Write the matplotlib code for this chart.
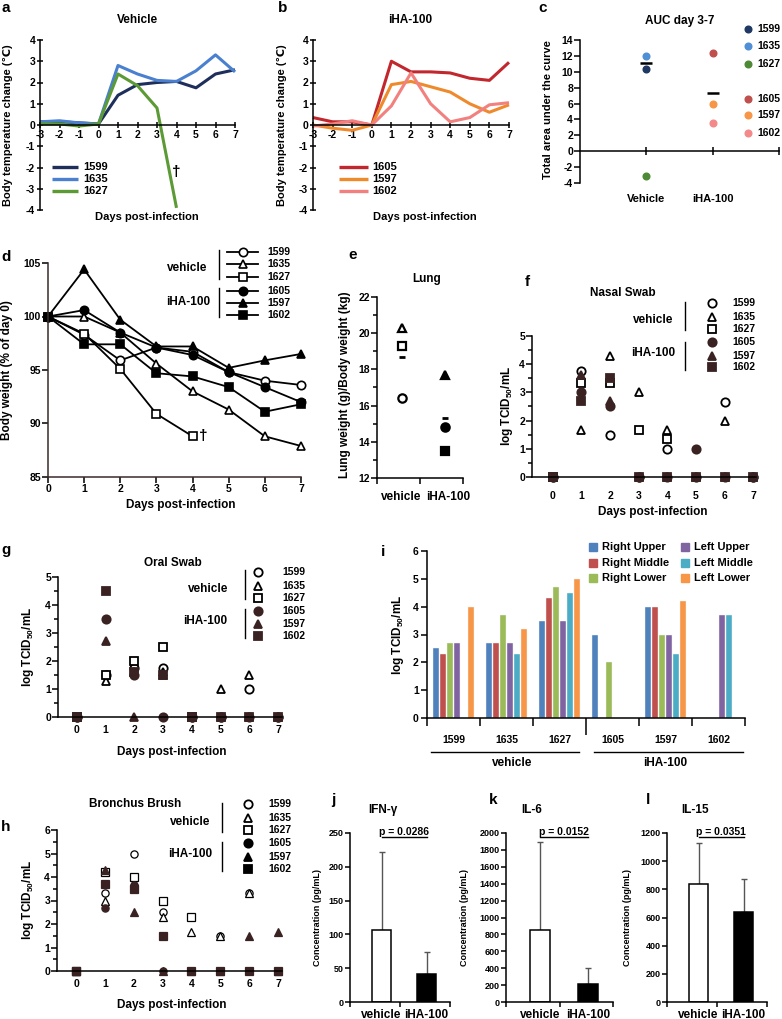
import matplotlib
matplotlib.use('Agg')
import matplotlib.pyplot as plt
import numpy as np
from matplotlib.ticker import MultipleLocator

W, H = 782, 1019
plt.rcParams['font.family'] = ['Liberation Sans', 'DejaVu Sans']
plt.rcParams['font.weight'] = 'bold'
plt.rcParams['axes.labelweight'] = 'bold'
plt.rcParams['mathtext.default'] = 'regular'
plt.rcParams['axes.linewidth'] = 1.1
plt.rcParams['axes.unicode_minus'] = False

# ---------------- data ----------------
animals = ['1599', '1635', '1627', '1605', '1597', '1602']
vehicle_ids = ['1599', '1635', '1627']
iha_ids = ['1605', '1597', '1602']

days_temp = [-3, -2, -1, 0, 1, 2, 3, 4, 5, 6, 7]
temp_1599 = [0.15, 0.15, 0.1, 0.05, 1.4, 1.9, 2.0, 2.05, 1.75, 2.4, 2.6]
temp_1635 = [0.15, 0.2, 0.1, 0.05, 2.8, 2.4, 2.1, 2.05, 2.55, 3.3, 2.5]
temp_1627 = [0.05, 0.05, -0.05, 0.05, 2.4, 1.85, 0.8, -3.9]
temp_1605 = [0.35, 0.15, 0.15, 0.0, 3.0, 2.5, 2.5, 2.45, 2.2, 2.1, 2.95]
temp_1597 = [0.0, -0.15, -0.25, 0.0, 1.9, 2.05, 1.8, 1.55, 1.0, 0.6, 0.95]
temp_1602 = [-0.05, 0.05, 0.2, 0.0, 0.9, 2.45, 1.0, 0.15, 0.35, 0.95, 1.05]

auc_groups = ['Vehicle', 'iHA-100']
auc_vehicle = [10.4, 12.0, -3.1]
auc_iha = [12.4, 6.0, 3.6]
auc_means = [11.1, 7.3]

days_wt = [0, 1, 2, 3, 4, 5, 6, 7]
wt_1599 = [100, 98.3, 95.9, 97.1, 96.7, 94.8, 94.0, 93.6]
wt_1635 = [100, 100.0, 98.5, 95.6, 93.0, 91.3, 88.8, 87.9]
wt_1627 = [100, 98.4, 95.1, 90.9, 88.8]
wt_1605 = [100, 100.6, 98.5, 97.1, 96.4, 94.8, 93.4, 92.0]
wt_1597 = [100, 104.4, 99.7, 97.2, 97.2, 95.2, 95.9, 96.5]
wt_1602 = [100, 97.4, 97.4, 94.7, 94.4, 93.4, 91.1, 91.8]

lung_groups = ['vehicle', 'iHA-100']
lung_vehicle = [16.4, 20.3, 19.3]
lung_iha = [14.8, 17.7, 13.5]
lung_means = [18.7, 15.3]

days_swab = [0, 1, 2, 3, 4, 5, 6, 7]
nan = np.nan
nasal_swab = [
    [0, 3.75, 1.5, 0, 1.0, 0, 2.65, 0],
    [0, 1.65, 4.3, 3.0, 1.65, 0, 2.0, 0],
    [0, 3.35, 3.35, 1.65, 1.35, nan, nan, nan],
    [0, 3.0, 2.5, 0, 0, 1.0, 0, 0],
    [0, 3.6, 2.7, 0, 0, 0, 0, 0],
    [0, 2.7, 3.5, 0, 0, 0, 0, 0],
]
oral_swab = [
    [0, 1.5, 1.75, 1.75, 0, 0, 1.0, 0],
    [0, 1.3, 1.6, 1.6, 0, 1.0, 1.5, 0],
    [0, 1.5, 2.0, 2.5, 0, nan, nan, nan],
    [0, 3.5, 1.5, 0, 0, 0, 0, 0],
    [0, 2.7, 0, 1.5, 0, 0, 0, 0],
    [0, 4.5, 1.6, 1.5, 0, 0, 0, 0],
]
bronchus_brush = [
    [0, 3.3, 5.0, 2.5, 0, 1.5, 3.3, 0],
    [0, 3.0, 3.8, 2.3, 1.65, 1.5, 3.3, 0],
    [0, 4.2, 4.0, 3.0, 2.3, nan, nan, nan],
    [0, 2.7, 3.65, 0, 0, 0, 0, 0],
    [0, 4.3, 2.5, 0, 0, 0, 1.5, 1.65],
    [0, 3.7, 3.5, 1.5, 0, 0, 0, 0],
]

lobes = ['Right Upper', 'Right Middle', 'Right Lower', 'Left Upper', 'Left Middle', 'Left Lower']
lobe_1599 = [2.5, 2.3, 2.7, 2.7, 0, 4.0]
lobe_1635 = [2.7, 2.7, 3.7, 2.7, 2.3, 3.2]
lobe_1627 = [3.5, 4.3, 4.7, 3.5, 4.5, 5.0]
lobe_1605 = [3.0, 0, 2.0, 0, 0, 0]
lobe_1597 = [4.0, 4.0, 3.0, 3.0, 2.3, 4.2]
lobe_1602 = [0, 0, 0, 3.7, 3.7, 0]

cyto_names = ['IFN-γ', 'IL-6', 'IL-15']
cyto_vehicle_mean = [106, 850, 835]
cyto_vehicle_sd = [116, 1040, 295]
cyto_iha_mean = [42, 215, 638]
cyto_iha_sd = [32, 185, 237]
cyto_p = ['0.0286', '0.0152', '0.0351']
cyto_ymax = [250, 2000, 1200]
cyto_ystep = [50, 200, 200]

# ---------------- styles ----------------
temp_colors = {'1599': '#1f2f5c', '1635': '#4a80cf', '1627': '#5c9a35',
               '1605': '#c1272d', '1597': '#ef8a2c', '1602': '#f2807f'}
auc_colors = {'1599': '#1f3864', '1635': '#4f8fd6', '1627': '#4e8a35',
              '1605': '#c0504d', '1597': '#f79646', '1602': '#f4898a'}
DARK = '#3a2222'
mk = {'1599': ('o', False), '1635': ('^', False), '1627': ('s', False),
      '1605': ('o', True), '1597': ('^', True), '1602': ('s', True)}
lobe_colors = ['#4f81bd', '#c0504d', '#9bbb59', '#8064a2', '#4bacc6', '#f79646']

fig = plt.figure(figsize=(W / 100, H / 100), dpi=100)


def box(l, t, r, b):
    return fig.add_axes([l / W, 1 - b / H, (r - l) / W, (b - t) / H])


def ftext(x, y, s, **kw):
    kw.setdefault('ha', 'center')
    kw.setdefault('va', 'center')
    fig.text(x / W, 1 - y / H, s, **kw)


def mstyle(a, ms=6, mew=1.2, dark='black'):
    m, filled = mk[a]
    return dict(marker=m, markersize=ms, markeredgewidth=mew,
                markerfacecolor=(dark if filled else 'white'),
                markeredgecolor=(dark if filled else 'black'))


# ---------------- a / b temperature ----------------
def temp_panel(box_px, ids, series):
    ax = box(*box_px)
    for a, vals in zip(ids, series):
        ax.plot(days_temp[:len(vals)], vals, color=temp_colors[a], lw=2.2,
                clip_on=False, solid_capstyle='butt')
    ax.set_xlim(-3, 7)
    ax.set_ylim(-4, 4)
    ax.spines['bottom'].set_position(('data', 0))
    ax.spines[['top', 'right']].set_visible(False)
    ax.set_xticks(days_temp)
    ax.set_yticks(range(-4, 5))
    ax.tick_params(direction='inout', length=5, width=1.1, labelsize=7.5, pad=1)
    ax.patch.set_alpha(0)
    return ax


axa = temp_panel((40, 40, 235, 210), vehicle_ids, [temp_1599, temp_1635, temp_1627])
axa.text(4.0, -2.2, '†', fontsize=11, ha='center', va='center')
axb = temp_panel((313, 40, 509, 210), iha_ids, [temp_1605, temp_1597, temp_1602])

ftext(137, 20, 'Vehicle', fontsize=8.5)
ftext(410, 20, 'iHA-100', fontsize=8.5)
for x in (8, 282):
    ftext(x, 125, 'Body temperature change (℃)', rotation=90, fontsize=8)
ftext(147, 217, 'Days post-infection', fontsize=8)
ftext(425, 217, 'Days post-infection', fontsize=8)

# ---------------- c AUC ----------------
axc = box(580, 40, 779, 183)
for a, v in zip(vehicle_ids, auc_vehicle):
    axc.plot([1], [v], 'o', color=auc_colors[a], ms=4.8, clip_on=False)
for a, v in zip(iha_ids, auc_iha):
    axc.plot([2], [v], 'o', color=auc_colors[a], ms=4.8, clip_on=False)
axc.plot([1, 2], auc_means, linestyle='none', marker='_', color='black', ms=8, mew=1.8)
axc.set_xlim(0, 3)
axc.set_ylim(-4, 14)
axc.spines['bottom'].set_position(('data', 0))
axc.spines[['top', 'right']].set_visible(False)
axc.set_xticks([1, 2, 3])
axc.set_xticklabels([])
axc.set_yticks(range(-4, 15, 2))
axc.tick_params(axis='x', direction='inout', length=6, width=1.1)
axc.tick_params(axis='y', direction='out', length=4, width=1.1, labelsize=7.5, pad=1)
for i, g in enumerate(auc_groups):
    axc.text(i + 1, -0.11, g, transform=axc.get_xaxis_transform(), ha='center', va='center', fontsize=8)
ftext(680, 21, 'AUC day 3-7', fontsize=8.5)
ftext(548, 110, 'Total area under the curve', rotation=90, fontsize=8)

# ---------------- d body weight ----------------
axd = box(48, 263, 301, 477)
for a, vals in zip(animals, [wt_1599, wt_1635, wt_1627, wt_1605, wt_1597, wt_1602]):
    axd.plot(days_wt[:len(vals)], vals, color='black', lw=1.3, clip_on=False,
             **mstyle(a, ms=6, dark='black'))
axd.text(4.3, 88.8, '†', fontsize=11, ha='center', va='center')
axd.set_xlim(0, 7)
axd.set_ylim(85, 105)
axd.set_yticks([85, 90, 95, 100, 105])
axd.set_xticks(days_wt)
axd.spines[['top', 'right']].set_visible(False)
for s in ('left', 'bottom'):
    axd.spines[s].set_color('#3a2a2a')
axd.tick_params(direction='out', length=4, width=1.1, labelsize=7.5, pad=1)
ftext(7, 370, 'Body weight (% of day 0)', rotation=90, fontsize=8.5)
ftext(181, 505, 'Days post-infection', fontsize=8.5)

# ---------------- e lung ----------------
axe = box(377, 297, 463, 478)
for a, v in zip(vehicle_ids, lung_vehicle):
    axe.plot([0.58], [v], linestyle='none', clip_on=False, **mstyle(a, ms=6, mew=1.6))
for a, v in zip(iha_ids, lung_iha):
    axe.plot([1.58], [v], linestyle='none', clip_on=False, **mstyle(a, ms=6, mew=1.6))
axe.plot([0.58, 1.58], lung_means, linestyle='none', marker='_', color='black', ms=5, mew=2)
axe.set_xlim(0, 2)
axe.set_ylim(12, 22)
axe.set_xticks([0, 1, 2])
axe.set_xticklabels([])
axe.set_yticks(range(12, 23, 2))
axe.yaxis.set_minor_locator(MultipleLocator(1))
axe.spines[['top', 'right']].set_visible(False)
axe.tick_params(which='both', direction='out', length=4, width=1.1, labelsize=7.5, pad=1)
axe.tick_params(which='minor', length=3)
for x, g in zip([0.55, 1.65], lung_groups):
    axe.text(x, -0.105, g, transform=axe.get_xaxis_transform(), ha='center', va='center', fontsize=8.5)
ftext(427, 279, 'Lung', fontsize=8.5)
ftext(345, 385, 'Lung weight (g)/Body weight (kg)', rotation=90, fontsize=8.5)


# ---------------- f / g / h swabs ----------------
def swab_panel(box_px, data, ymax, xl, ms=6, mew=1.3, pad=6):
    ax = box(*box_px)
    for a, vals in zip(animals, data):
        ax.plot(days_swab, vals, linestyle='none', clip_on=False,
                **mstyle(a, ms=ms, mew=mew, dark=DARK))
    ax.set_xlim(*xl)
    ax.set_ylim(0, ymax)
    ax.set_xticks(days_swab)
    ax.set_yticks(range(0, ymax + 1))
    ax.yaxis.set_minor_locator(MultipleLocator(0.5))
    ax.spines[['top', 'right']].set_visible(False)
    ax.tick_params(axis='x', length=0, labelsize=7.5, pad=pad)
    ax.tick_params(axis='y', which='both', direction='out', length=4, width=1.1, labelsize=7.5, pad=1)
    ax.tick_params(axis='y', which='minor', length=3)
    return ax


axf = swab_panel((532, 336, 756, 477), nasal_swab, 5, (-0.73, 7.1), pad=10)
axg = swab_panel((58, 577, 282, 717), oral_swab, 5, (-0.66, 7.14))
axh = swab_panel((57, 830, 282, 971), bronchus_brush, 6, (-0.66, 7.14), ms=5.2, mew=0.9)

ftext(623, 293, 'Nasal Swab', fontsize=8.5)
ftext(173, 563, 'Oral Swab', fontsize=8.5)
ftext(135, 804, 'Bronchus Brush', fontsize=8.5)
ylab = 'log TCID$_{50}$/mL'
ftext(507, 406, ylab, rotation=90, fontsize=8.5)
ftext(28, 647, ylab, rotation=90, fontsize=8.5)
ftext(28, 900, ylab, rotation=90, fontsize=8.5)
ftext(653, 512, 'Days post-infection', fontsize=8.5)
ftext(172, 752, 'Days post-infection', fontsize=8.5)
ftext(172, 1005, 'Days post-infection', fontsize=8.5)

# ---------------- i lobes ----------------
axi = box(427, 551, 745, 718)
lobe_data = np.array([lobe_1599, lobe_1635, lobe_1627, lobe_1605, lobe_1597, lobe_1602])
gx = np.arange(len(animals)) + 0.5
offs = (np.arange(len(lobes)) - 2.5) * 0.132
for j, lobe in enumerate(lobes):
    axi.bar(gx + offs[j], lobe_data[:, j], width=0.11, color=lobe_colors[j],
            edgecolor='#f4f4f4', linewidth=0.3, label=lobe)
axi.set_xlim(0, 6)
axi.set_ylim(0, 6)
axi.set_xticks([0, 1, 2, 4, 5, 6])
axi.set_xticks([3], minor=True)
axi.set_xticklabels([])
axi.spines[['top', 'right']].set_visible(False)
axi.tick_params(axis='x', which='major', direction='out', length=6, width=1.1)
axi.tick_params(axis='x', which='minor', direction='out', length=12, width=1.1)
axi.tick_params(axis='y', direction='out', length=4, width=1.1, labelsize=7.5, pad=2)
for x, a in zip(gx, animals):
    axi.text(x, -0.13, a, transform=axi.get_xaxis_transform(), ha='center', va='center', fontsize=7.5)
ftext(398, 635, ylab, rotation=90, fontsize=8.5)

# ---------------- j / k / l cytokines ----------------
cyto_boxes = [(350, 833, 450, 1002), (506, 833, 613, 1002), (667, 833, 767, 1002)]
cyto_titles_x = [383, 532, 695]
cyto_ylab_x = [317, 465, 627]
bx = [0.63, 1.53]
for i, name in enumerate(cyto_names):
    ax = box(*cyto_boxes[i])
    ax.bar(bx, [cyto_vehicle_mean[i], cyto_iha_mean[i]], width=0.37,
           color=['white', 'black'], edgecolor='black', linewidth=1.1, zorder=2)
    ax.errorbar(bx, [cyto_vehicle_mean[i], cyto_iha_mean[i]],
                yerr=[[0, 0], [cyto_vehicle_sd[i], cyto_iha_sd[i]]],
                fmt='none', ecolor='#555555', elinewidth=1.0, capsize=2, capthick=1.0, zorder=1)
    ax.set_xlim(0, 2)
    ax.set_ylim(0, cyto_ymax[i])
    ax.set_yticks(np.arange(0, cyto_ymax[i] + 1, cyto_ystep[i]))
    ax.set_xticks([0, 1, 2])
    ax.set_xticklabels([])
    ax.spines[['top', 'right']].set_visible(False)
    ax.tick_params(direction='out', length=3.5, width=1.1, labelsize=6.5, pad=1)
    for x, g in zip(bx, ['vehicle', 'iHA-100']):
        ax.text(x, -0.075, g, transform=ax.get_xaxis_transform(), ha='center', va='center', fontsize=8.5)
    ax.plot(bx, [0.976, 0.976], color='black', lw=1.0, transform=ax.get_xaxis_transform(), clip_on=False)
    ax.text(np.mean(bx), 0.99, 'p = ' + cyto_p[i], transform=ax.get_xaxis_transform(),
            ha='center', va='baseline', fontsize=7.5)
    ftext(cyto_titles_x[i], 810, name, fontsize=8.5)
    ftext(cyto_ylab_x[i], 917, 'Concentration (pg/mL)', rotation=90, fontsize=6.5)

# ---------------- overlay: legends, labels ----------------
ov = fig.add_axes([0, 0, 1, 1])
ov.set_xlim(0, W)
ov.set_ylim(H, 0)
ov.axis('off')
ov.patch.set_alpha(0)

# a / b legends
for (x0, x1, tx), ids in [((52, 78, 83), vehicle_ids), ((339, 368, 372), iha_ids)]:
    for a, y in zip(ids, [167, 179, 191]):
        ov.plot([x0, x1], [y, y], color=temp_colors[a], lw=2.4, solid_capstyle='butt')
        ov.text(tx, y, a, fontsize=8, va='center', ha='left')

# c legend
for a, y in zip(animals, [29, 46, 64, 99, 115, 133]):
    ov.plot([748], [y], 'o', color=auc_colors[a], ms=4.8)
    ov.text(757, y, a, fontsize=7.5, va='center', ha='left')


def group_legend(rows, mx, tx, vx, vy, ix, iy, barx, vbar, ibar, line=None, ms=6, mew=1.2, dark='black', fs=7.5):
    for a, y in zip(animals, rows):
        if line:
            ov.plot(line, [y, y], color='black', lw=1.3)
        ov.plot([mx], [y], linestyle='none', **mstyle(a, ms=ms, mew=mew, dark=dark))
        ov.text(tx, y, a, fontsize=fs, va='center', ha='left')
    ov.text(vx, vy, 'vehicle', fontsize=8.5, ha='center', va='center')
    ov.text(ix, iy, 'iHA-100', fontsize=8.5, ha='center', va='center')
    ov.plot([barx, barx], vbar, color='black', lw=1.0)
    ov.plot([barx, barx], ibar, color='black', lw=1.0)


group_legend([252, 264, 277, 291, 303, 315], 243, 267, 187, 268, 188, 302, 219,
             (250, 279), (288, 317), line=(227, 258), ms=6)
group_legend([303, 317, 329, 342, 356, 367], 712, 732, 653, 320, 653, 353, 685,
             (302, 330), (342, 370), ms=6, mew=1.3, dark=DARK)
group_legend([572, 586, 598, 611, 624, 636], 258, 282, 208, 589, 205, 621, 245,
             (570, 599), (609, 638), ms=6, mew=1.3, dark=DARK)
group_legend([804, 818, 830, 843, 857, 869], 248, 268, 190, 822, 190, 854, 222,
             (803, 832), (842, 871), ms=6, mew=1.3, dark='black')

# i legend
for j, lobe in enumerate(lobes):
    col, row = divmod(j, 3)
    x = 593 + col * 92
    y = 547 + row * 15.5
    ov.plot([x], [y], 's', color=lobe_colors[j], ms=5.5)
    ov.text(x + 9, y, lobe, fontsize=8, va='center', ha='left')
# i group underlines
ov.plot([431, 579], [752, 752], color='black', lw=1.0)
ov.plot([594, 743], [752, 752], color='black', lw=1.0)
ov.text(512, 763, 'vehicle', fontsize=8.5, ha='center', va='center')
ov.text(665, 763, 'iHA-100', fontsize=8.5, ha='center', va='center')

# panel letters
for s, x, y in [('a', 6, 8), ('b', 283, 8), ('c', 543, 8), ('d', 6, 257), ('e', 353, 255),
                ('f', 527, 282), ('g', 6, 550), ('i', 383, 552), ('h', 6, 827),
                ('j', 333, 800), ('k', 493, 800), ('l', 648, 800)]:
    ov.text(x, y, s, fontsize=11, ha='center', va='center', fontweight='bold')

fig.savefig('out.png', dpi=100)
